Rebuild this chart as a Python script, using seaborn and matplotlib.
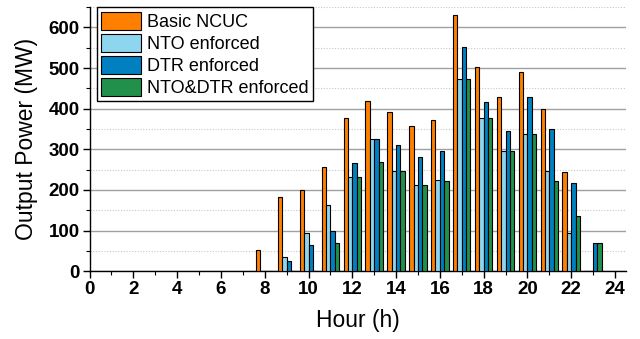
import numpy as np
import pandas as pd
import matplotlib
matplotlib.use("Agg")
import matplotlib.pyplot as plt
from matplotlib.ticker import MultipleLocator
import seaborn as sns

hours = [8, 9, 10, 11, 12, 13, 14, 15, 16, 17, 18, 19, 20, 21, 22, 23]
basic_ncuc = [52, 182, 200, 256, 377, 420, 391, 358, 371, 630, 503, 428, 491, 400, 244, 0]
nto_enforced = [0, 34, 94, 162, 231, 325, 246, 212, 225, 474, 378, 296, 337, 246, 94, 0]
dtr_enforced = [0, 25, 64, 98, 266, 325, 310, 282, 296, 552, 417, 345, 428, 350, 216, 69]
nto_dtr_enforced = [0, 0, 0, 69, 231, 269, 246, 212, 221, 474, 378, 296, 337, 222, 137, 69]
series_names = ["Basic NCUC", "NTO enforced", "DTR enforced", "NTO&DTR enforced"]
colors = ["#FF8000", "#8ED6F0", "#0080C0", "#20904A"]

frames = []
for name, vals in zip(series_names, [basic_ncuc, nto_enforced, dtr_enforced, nto_dtr_enforced]):
    frames.append(pd.DataFrame({"Hour": hours, "Power": vals, "Case": name}))
df = pd.concat(frames, ignore_index=True)

sns.set_theme(style="white")
plt.rcParams["font.family"] = ["Liberation Sans", "DejaVu Sans"]
plt.rcParams["text.color"] = "black"
plt.rcParams["axes.labelcolor"] = "black"
plt.rcParams["xtick.color"] = "black"
plt.rcParams["ytick.color"] = "black"

fig = plt.figure(figsize=(6.4, 3.39), dpi=100)
ax = fig.add_axes([0.140, 0.200, 0.838, 0.779])

sns.barplot(data=df, x="Hour", y="Power", hue="Case", hue_order=series_names,
            palette=colors, native_scale=True, width=0.8, gap=0, saturation=1,
            edgecolor="black", linewidth=0.8, errorbar=None, ax=ax, zorder=3)

ax.set_xlim(0, 24.5)
ax.set_ylim(0, 650)
ax.xaxis.set_major_locator(MultipleLocator(2))
ax.xaxis.set_minor_locator(MultipleLocator(1))
ax.yaxis.set_major_locator(MultipleLocator(100))
ax.yaxis.set_minor_locator(MultipleLocator(50))
ax.set_xticklabels([str(int(t)) for t in ax.get_xticks()])

ax.grid(axis="y", which="major", color="#a0a0a0", linewidth=1.0, linestyle="-", zorder=0)
ax.grid(axis="y", which="minor", color="#c8c8c8", linewidth=0.8, linestyle=(0, (1, 1.5)), zorder=0)
ax.grid(axis="x", visible=False, which="both")
ax.set_axisbelow(True)

for s in ["top", "right"]:
    ax.spines[s].set_visible(False)
for s in ["left", "bottom"]:
    ax.spines[s].set_color("black")
    ax.spines[s].set_linewidth(1.0)

ax.tick_params(axis="both", which="major", direction="out", length=5, width=1,
               color="black", labelcolor="black", labelsize=13.5, pad=2, bottom=True, left=True)
ax.tick_params(axis="both", which="minor", direction="out", length=3, width=0.8,
               color="black", bottom=True, left=True)
for lab in ax.get_xticklabels() + ax.get_yticklabels():
    lab.set_fontweight("bold")

ax.set_xlabel("Hour (h)", fontsize=16.5, labelpad=8, color="black")
ax.set_ylabel("Output Power (MW)", fontsize=16.5, labelpad=8, color="black")

handles, labels = ax.get_legend_handles_labels()
if ax.get_legend() is not None:
    ax.get_legend().remove()
leg = fig.legend(handles, labels, loc="upper left", bbox_to_anchor=(0.151, 0.978),
                 fontsize=13, frameon=True, fancybox=False, edgecolor="black",
                 framealpha=1, borderpad=0.25, labelspacing=0.16, handlelength=2.2,
                 handleheight=1.15, handletextpad=0.35, borderaxespad=0)
leg.get_frame().set_linewidth(1.0)
for t in leg.get_texts():
    t.set_color("black")
for h in leg.legend_handles:
    h.set_edgecolor("black")
    h.set_linewidth(0.8)

fig.savefig("out.png", dpi=100)
